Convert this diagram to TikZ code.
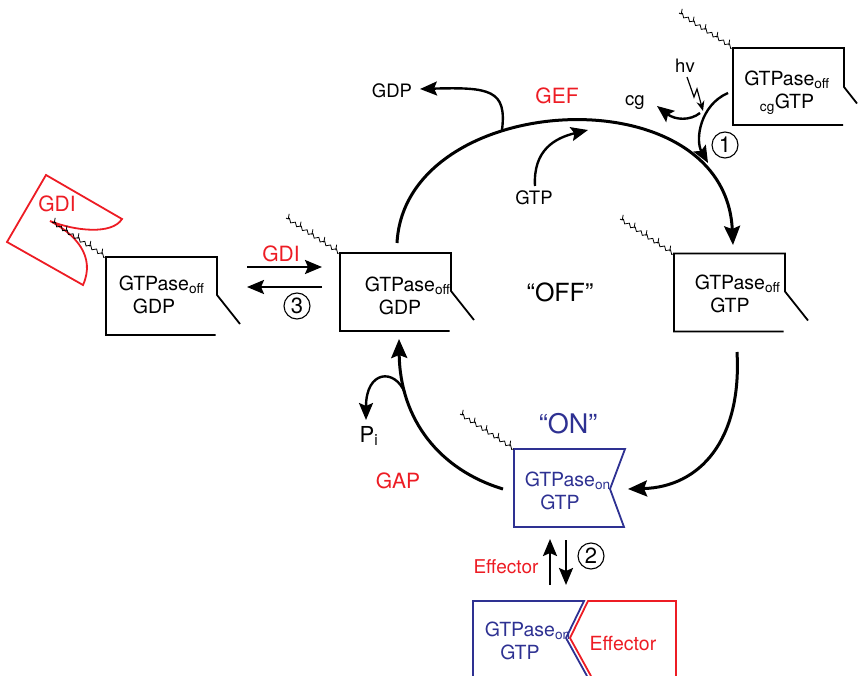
\documentclass[tikz,border=0pt]{standalone}
\usepackage{fontspec}
\setmainfont{TeX Gyre Heros}
\usetikzlibrary{arrows.meta}
\usetikzlibrary{decorations.pathmorphing}
\definecolor{gefred}{RGB}{237,28,36}
\definecolor{onblue}{RGB}{46,49,146}

\tikzset{
  big/.style={line width=3pt, -{Stealth[length=19pt, width=16pt, inset=3pt]}},
  small/.style={line width=2.4pt, -{Stealth[length=17pt, width=14pt, inset=3pt]}},
  boxline/.style={line width=1.8pt},
  boxtext/.style={font=\fontsize{19.5}{23}\selectfont, align=center, inner sep=0pt},
  lbl/.style={font=\fontsize{18.5}{18.5}\selectfont, inner sep=0pt},
  redlbl/.style={font=\fontsize{21}{21}\selectfont, text=gefred, inner sep=0pt},
  num/.style={circle, draw, line width=1.1pt, inner sep=0pt, minimum size=26pt, font=\fontsize{22}{22}\selectfont},
  offbox/.pic={\draw[boxline] (54,39) -- (-55.5,39) -- (-55.5,-39) -- (55.5,-39) -- (55.5,-1) -- (78.5,28);},
  tail/.pic={
    \draw[line width=0.8pt, decorate, decoration={zigzag, segment length=7pt, amplitude=1.6pt}] (0,0) -- (-54,-35);
    \foreach \f in {0.08,0.3,0.52,0.74,0.96} \draw[line width=0.8pt] ({-54*\f},{-35*\f}) -- ++(1,-5.5);
  }
}

\begin{document}
\begin{tikzpicture}[line cap=butt, line join=miter, x=1pt, y=-1pt]
\useasboundingbox (0,0) rectangle (859,676);

% GTPase boxes, off state
\pic at (161.5,296) {offbox};
\pic at (395.5,292) {offbox};
\pic at (729.5,292.5) {offbox};
\draw[boxline] (843,125) -- (733,125) -- (733,48) -- (844,48) -- (844,87) -- (857,103.5);
% on state
\draw[boxline, onblue] (514,449) -- (625,449) -- (610,489) -- (624,527) -- (514,527) -- cycle;
\draw[boxline, onblue] (473,676) -- (473,601) -- (584,601) -- (566,638) -- (587,676);
\draw[boxline, gefred] (591,676) -- (570,638) -- (588,601) -- (676,601) -- (676,676);

% GDI pocket
\draw[boxline, gefred] (46,175) -- (122,219) .. controls (112,235) and (75,231) .. (50,221)
  .. controls (75,234) and (96,256) .. (83,285) -- (7,242) -- cycle;

% lipid tails
\pic at (106,257) {tail};
\pic at (340,253) {tail};
\pic at (674,254) {tail};
\pic at (733,48) {tail};
\pic at (514,449) {tail};

% texts
\node[boxtext] (offL) at (154,295) {GTPase\rlap{\textsubscript{off}}\\GDP};
\node[boxtext] (offM) at (400,296) {GTPase\rlap{\textsubscript{off}}\\GDP};
\node[boxtext] (offR) at (730,294) {GTPase\rlap{\textsubscript{off}}\\GTP};
\node[boxtext] (offcg) at (787,93) {GTPase\textsubscript{off}\\\textsubscript{cg}GTP};
\node[boxtext, text=onblue] (onbox) at (560,491) {GTPase\rlap{\textsubscript{on}}\\GTP};
\node[boxtext, text=onblue] (onbound) at (520,641) {GTPase\rlap{\textsubscript{on}}\\GTP};
\node[boxtext, text=gefred] (effbound) at (623,644) {Effector};
\node[redlbl] (gdipocket) at (57,204) {GDI};
\node[redlbl] (gdi) at (281,254) {GDI};
\node[redlbl] (gef) at (557,96) {GEF};
\node[redlbl] (gap) at (398,481) {GAP};
\node[font=\fontsize{19}{19}\selectfont, text=gefred, inner sep=0pt] (eff) at (506,567) {Effector};
\node[lbl] (gdp) at (392,91) {GDP};
\node[lbl] (gtp) at (534,198) {GTP};
\node[lbl] (cg) at (635,103) {cg};
\node[lbl] (hv) at (685,66) {hv};
\node[font=\fontsize{22}{22}\selectfont, inner sep=0pt] (pi) at (369,436) {P\textsubscript{i}};
\node[font=\fontsize{25}{25}\selectfont, inner sep=0pt] (off) at (560,292) {“OFF”};
\node[font=\fontsize{27}{27}\selectfont, text=onblue, inner sep=0pt] (on) at (568,424) {“ON”};
\node[num] (n1) at (725,145) {1};
\node[num] (n2) at (591,556) {2};
\node[num] (n3) at (297,306) {3};

% end points of the connectors
\coordinate (mTop) at (397,243);
\coordinate (rTop) at (733,245);
\coordinate (rBot) at (737,352);
\coordinate (onR) at (628,489);
\coordinate (onL) at (503,489);
\coordinate (mBot) at (399,339);
\coordinate (gdpOut) at (502,130);
\coordinate (gdpTip) at (420,89);
\coordinate (gtpIn) at (535,186);
\coordinate (gtpTip) at (588,130);
\coordinate (cgStart) at (728,93);
\coordinate (cgTip) at (708,163);
\coordinate (cgJoin) at (700,113);
\coordinate (cgOut) at (657,106);
\coordinate (piOut) at (405,393);
\coordinate (piTip) at (366,420);
\coordinate (gdiA) at (247,267);
\coordinate (gdiB) at (322,267);
\coordinate (gdiC) at (322,287);
\coordinate (gdiD) at (247,287);
\coordinate (effA) at (550,585);
\coordinate (effB) at (550,539);
\coordinate (effC) at (566,540);
\coordinate (effD) at (566,585);

% the cycle
\draw[big] (mTop) .. controls (405,90) and (725,72) .. (rTop);
\draw[big] (rBot) .. controls (742,440) and (700,487) .. (onR);
\draw[big] (onL) .. controls (440,470) and (400,420) .. (mBot);

% side arrows
\draw[small] (gdpOut) .. controls (507,90) and (490,87) .. (gdpTip);
\draw[small] (gtpIn) .. controls (533,150) and (555,138) .. (gtpTip);
\draw[small] (cgStart) .. controls (700,105) and (695,140) .. (cgTip);
\draw[small] (cgJoin) .. controls (690,121) and (675,120) .. (cgOut);
\draw[line width=1.2pt, -{Stealth[length=10pt, width=8pt]}] (687,77) -- (694,97) -- (697,89) -- (703,111);
\draw[small] (piOut) .. controls (395,368) and (366,370) .. (piTip);
\draw[small] (gdiA) -- (gdiB);
\draw[small] (gdiC) -- (gdiD);
\draw[small] (effA) -- (effB);
\draw[small] (effC) -- (effD);
\end{tikzpicture}
\end{document}
